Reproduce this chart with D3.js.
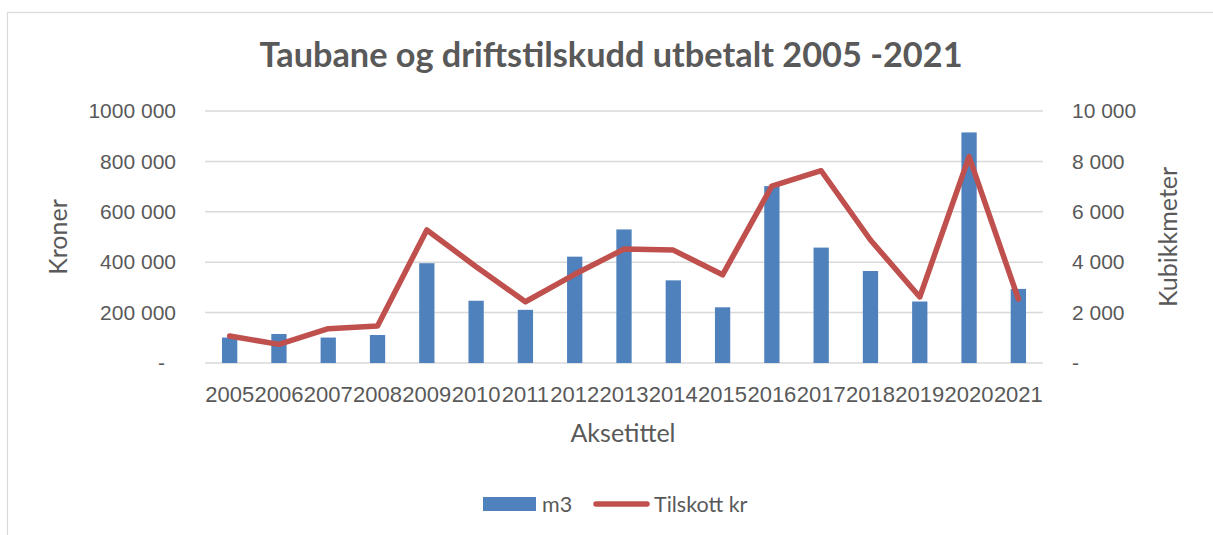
<!DOCTYPE html>
<html>
<head>
  <meta charset="utf-8">
  <style>
    body {
      margin: 0;
      background: #fff;
      font-family: Lato, sans-serif;
    }
    .grid line {
      stroke: #d9d9d9;
      stroke-width: 1.5px;
    }
    .axis text {
      fill: #595959;
      font-size: 21px;
    }
    .axis.x text {
      font-size: 22px;
    }
    .axis-title {
      fill: #595959;
      font-size: 25px;
    }
    .chart-title {
      fill: #595959;
      font-size: 34.3px;
      font-weight: bold;
    }
    .legend text {
      fill: #595959;
      font-size: 21.5px;
    }
  </style>
  <script src="https://d3js.org/d3.v7.min.js"></script>
</head>
<body>
<div class="chart"></div>
<script>
const years = ['2005','2006','2007','2008','2009','2010','2011','2012','2013','2014','2015','2016','2017','2018','2019','2020','2021'];
const cubicMetres = [1010, 1150, 1010, 1110, 3960, 2470, 2110, 4220, 5300, 3280, 2210, 7020, 4580, 3650, 2440, 9150, 2940];
const subsidyKr = [107000, 74000, 136000, 147000, 528000, 382000, 243000, 352000, 452000, 448000, 350000, 702000, 763000, 488000, 262000, 819000, 254000];
const kronerTicks = [0, 200000, 400000, 600000, 800000, 1000000];
const cubicTicks = [0, 2000, 4000, 6000, 8000, 10000];

const width = 1213;
const height = 535;
const margin = {top: 111, right: 170, bottom: 172, left: 205};

const blue = '#4f81bd';
const red = '#c0504d';

// excel style "# ##0" with a dash for zero
function fmt(v){
  if (v === 0) return '-';
  const hi = Math.floor(v / 1000);
  const lo = String(v % 1000).padStart(3, '0');
  return hi + ' ' + lo;
}

const svg = d3.select('.chart')
  .append('svg')
  .attr('width', width)
  .attr('height', height);

// chart area border
svg.append('rect')
  .attr('x', 7.5)
  .attr('y', 12.5)
  .attr('width', width + 20)
  .attr('height', height + 20)
  .attr('fill', 'none')
  .attr('stroke', '#d9d9d9')
  .attr('stroke-width', 1.2);

const x = d3.scaleBand()
  .domain(years)
  .range([margin.left, width - margin.right])
  .paddingInner(0.69)
  .paddingOuter(0.345);

const yKr = d3.scaleLinear()
  .domain([0, 1000000])
  .range([height - margin.bottom, margin.top]);

const yM3 = d3.scaleLinear()
  .domain([0, 10000])
  .range([height - margin.bottom, margin.top]);

// gridlines
svg.append('g')
  .attr('class', 'grid')
  .selectAll('line')
  .data(kronerTicks)
  .join('line')
    .attr('x1', margin.left)
    .attr('x2', width - margin.right)
    .attr('y1', d => yKr(d))
    .attr('y2', d => yKr(d));

// left axis
svg.append('g')
  .attr('class', 'axis')
  .attr('transform', `translate(${margin.left}, 0)`)
  .call(d3.axisLeft(yKr).tickValues(kronerTicks).tickFormat(fmt).tickSize(0).tickPadding(29))
  .call(g => g.select('.domain').remove())
  .call(g => g.selectAll('text').filter(d => d === 0).attr('dx', -11));

// right axis
svg.append('g')
  .attr('class', 'axis')
  .attr('transform', `translate(${width - margin.right}, 0)`)
  .call(d3.axisRight(yM3).tickValues(cubicTicks).tickFormat(fmt).tickSize(0).tickPadding(29))
  .call(g => g.select('.domain').remove());

// bottom axis
svg.append('g')
  .attr('class', 'axis x')
  .attr('transform', `translate(0, ${height - margin.bottom})`)
  .call(d3.axisBottom(x).tickSize(0).tickPadding(23))
  .call(g => g.select('.domain').remove());

// bars (m3)
svg.append('g')
  .selectAll('rect')
  .data(years)
  .join('rect')
    .attr('x', d => x(d))
    .attr('y', (d, i) => yM3(cubicMetres[i]))
    .attr('width', x.bandwidth())
    .attr('height', (d, i) => yM3(0) - yM3(cubicMetres[i]))
    .attr('fill', blue);

// line (kroner)
const line = d3.line()
  .x(d => x(d[0]) + x.bandwidth() / 2)
  .y(d => yKr(d[1]));

svg.append('path')
  .datum(years.map((y, i) => [y, subsidyKr[i]]))
  .attr('d', line)
  .attr('fill', 'none')
  .attr('stroke', red)
  .attr('stroke-width', 5.5)
  .attr('stroke-linejoin', 'round')
  .attr('stroke-linecap', 'round');

// titles
svg.append('text')
  .attr('class', 'chart-title')
  .attr('x', 611)
  .attr('y', 67)
  .attr('text-anchor', 'middle')
  .text('Taubane og driftstilskudd utbetalt 2005 -2021');

svg.append('text')
  .attr('class', 'axis-title')
  .attr('transform', 'translate(67, 237) rotate(-90)')
  .attr('text-anchor', 'middle')
  .text('Kroner');

svg.append('text')
  .attr('class', 'axis-title')
  .attr('transform', 'translate(1177, 237) rotate(-90)')
  .attr('text-anchor', 'middle')
  .text('Kubikkmeter');

svg.append('text')
  .attr('class', 'axis-title')
  .attr('x', 623)
  .attr('y', 442)
  .attr('text-anchor', 'middle')
  .text('Aksetittel');

// legend
const legend = svg.append('g').attr('class', 'legend');

legend.append('rect')
  .attr('x', 483)
  .attr('y', 497)
  .attr('width', 53)
  .attr('height', 14)
  .attr('fill', blue);

legend.append('text')
  .attr('x', 542)
  .attr('y', 512)
  .text('m3');

legend.append('line')
  .attr('x1', 596)
  .attr('x2', 647)
  .attr('y1', 504)
  .attr('y2', 504)
  .attr('stroke', red)
  .attr('stroke-width', 5.5)
  .attr('stroke-linecap', 'round');

legend.append('text')
  .attr('x', 654)
  .attr('y', 512)
  .text('Tilskott kr');
</script>
</body>
</html>
